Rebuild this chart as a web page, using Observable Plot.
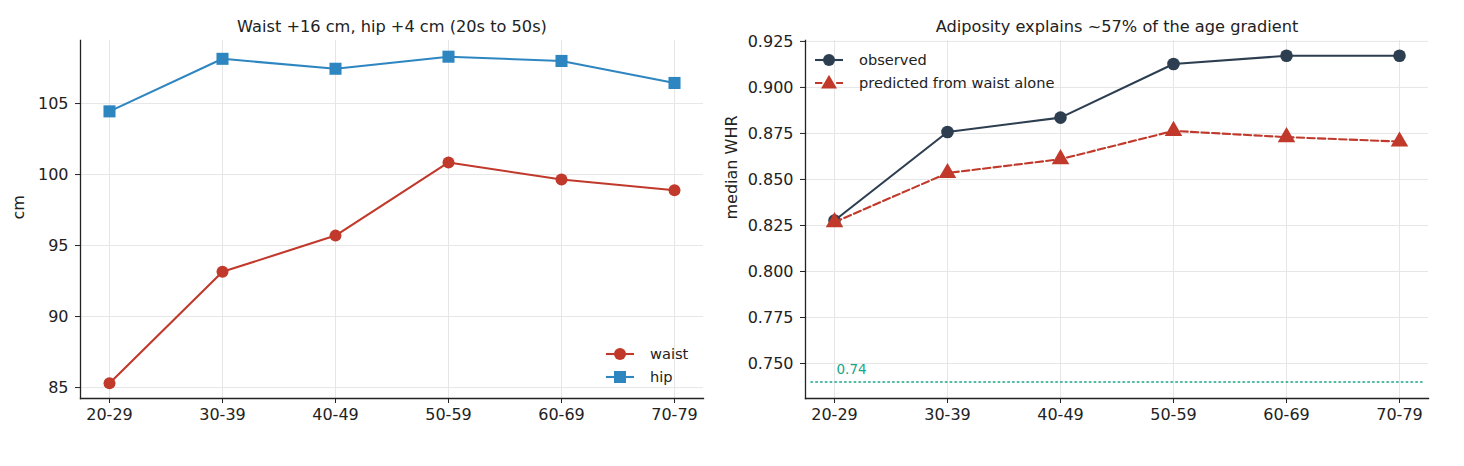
<!DOCTYPE html>
<html>
<head>
<meta charset="utf-8">
<script src="https://cdn.jsdelivr.net/npm/d3@7"></script>
<script src="https://cdn.jsdelivr.net/npm/@observablehq/plot@0.6"></script>
<style>
  html, body { margin: 0; padding: 0; background: #fff; }
  #wrap { position: relative; width: 1464px; height: 466px; display: flex; font-family: "DejaVu Sans", sans-serif; }
  .panel { position: relative; width: 732px; height: 466px; }
  .legend { position: absolute; font-size: 14.6px; color: #222; line-height: 23px; }
  .legend .row { display: flex; align-items: center; height: 23px; }
  .legend svg { margin-right: 15px; }
</style>
</head>
<body>
<div id="wrap">
  <div class="panel" id="left"></div>
  <div class="panel" id="right"></div>
</div>
<script>
const ages = ["20-29", "30-39", "40-49", "50-59", "60-69", "70-79"];
const waist = [85.3, 93.15, 95.7, 100.85, 99.65, 98.9];
const hip = [104.45, 108.15, 107.45, 108.3, 108.0, 106.45];
const observed = [0.8277, 0.8758, 0.8836, 0.9127, 0.9172, 0.9172];
const predicted = [0.8268, 0.8535, 0.861, 0.8764, 0.873, 0.8706];
const refValue = 0.74;
const leftTicks = [85, 90, 95, 100, 105];
const rightTicks = [0.750, 0.775, 0.800, 0.825, 0.850, 0.875, 0.900, 0.925];
const leftTitle = "Waist +16 cm, hip +4 cm (20s to 50s)";
const rightTitle = "Adiposity explains ~57% of the age gradient";

const RED = "#c0392b", BLUE = "#2e86c1", NAVY = "#2c3e50", TEAL = "#17a589";
const GRID = "#e6e6e6";

const waistData = ages.map((a, i) => ({age: a, v: waist[i]}));
const hipData = ages.map((a, i) => ({age: a, v: hip[i]}));
const obsData = ages.map((a, i) => ({age: a, v: observed[i]}));
const predData = ages.map((a, i) => ({age: a, v: predicted[i]}));

const common = {
  width: 732,
  height: 466,
  marginTop: 40,
  marginBottom: 68,
  style: {fontFamily: "DejaVu Sans, sans-serif", fontSize: "16px", color: "#222", background: "white", overflow: "visible"},
  x: {type: "point", domain: ages, padding: 0.247}
};

function axes(ticks, fmt) {
  return [
    Plot.gridX(ages, {stroke: GRID, strokeOpacity: 1, strokeWidth: 1}),
    Plot.gridY(ticks, {stroke: GRID, strokeOpacity: 1, strokeWidth: 1}),
    Plot.axisX({tickSize: 5, tickPadding: 5, fontSize: 16, label: null, stroke: "#222"}),
    Plot.axisY({ticks, tickSize: 5, tickPadding: 7, fontSize: 16, tickFormat: fmt, label: null, stroke: "#222"}),
    Plot.frame({anchor: "left", stroke: "#222", strokeWidth: 1.3}),
    Plot.frame({anchor: "bottom", stroke: "#222", strokeWidth: 1.3})
  ];
}

const left = Plot.plot({
  ...common,
  marginLeft: 80,
  marginRight: 29,
  y: {domain: [84.23, 109.44]},
  marks: [
    ...axes(leftTicks, d3.format("d")),
    Plot.line(waistData, {x: "age", y: "v", stroke: RED, strokeWidth: 2.1}),
    Plot.dot(waistData, {x: "age", y: "v", fill: RED, r: 6, symbol: "circle"}),
    Plot.line(hipData, {x: "age", y: "v", stroke: BLUE, strokeWidth: 2.1}),
    Plot.dot(hipData, {x: "age", y: "v", fill: BLUE, r: 6.8, symbol: "square"}),
    Plot.text([leftTitle], {frameAnchor: "top", dy: -20, fontSize: 16.2, fill: "#222"}),
    Plot.text(["cm"], {frameAnchor: "left", dx: -62, rotate: -90, fontSize: 16, fill: "#222"})
  ]
});

const right = Plot.plot({
  ...common,
  marginLeft: 73,
  marginRight: 36,
  y: {domain: [0.731, 0.9255]},
  marks: [
    ...axes(rightTicks, d3.format(".3f")),
    Plot.ruleY([refValue], {stroke: TEAL, strokeWidth: 1.6, strokeDasharray: "1.5,3.3", strokeLinecap: "round", inset: 6}),
    Plot.text([refValue], {x: () => ages[0], y: d => d, text: d => String(d), dy: -12, dx: 2, textAnchor: "start", fill: TEAL, fontSize: 13.5}),
    Plot.line(obsData, {x: "age", y: "v", stroke: NAVY, strokeWidth: 2.1}),
    Plot.dot(obsData, {x: "age", y: "v", fill: NAVY, r: 6.3, symbol: "circle"}),
    Plot.line(predData, {x: "age", y: "v", stroke: RED, strokeWidth: 2.1, strokeDasharray: "7.4,3.2"}),
    Plot.dot(predData, {x: "age", y: "v", fill: RED, r: 6.5, symbol: "triangle"}),
    Plot.text([rightTitle], {frameAnchor: "top", dy: -20, fontSize: 16.2, fill: "#222"}),
    Plot.text(["median WHR"], {frameAnchor: "left", dx: -74, rotate: -90, fontSize: 16, fill: "#222"})
  ]
});

document.getElementById("left").appendChild(left);
document.getElementById("right").appendChild(right);

function legend(parent, items, leftPx, topPx) {
  const div = document.createElement("div");
  div.className = "legend";
  div.style.left = leftPx + "px";
  div.style.top = topPx + "px";
  for (const it of items) {
    const row = document.createElement("div");
    row.className = "row";
    const s = d3.create("svg").attr("width", 30).attr("height", 16);
    s.append("line").attr("x1", 1).attr("x2", 29).attr("y1", 8).attr("y2", 8)
      .attr("stroke", it.color).attr("stroke-width", 2.1).attr("stroke-dasharray", it.dash || null);
    if (it.shape === "circle") s.append("circle").attr("cx", 15).attr("cy", 8).attr("r", 6).attr("fill", it.color);
    else if (it.shape === "square") s.append("rect").attr("x", 9).attr("y", 2).attr("width", 12).attr("height", 12).attr("fill", it.color);
    else s.append("path").attr("d", d3.symbol(d3.symbolTriangle, 110)()).attr("transform", "translate(15,9)").attr("fill", it.color);
    row.appendChild(s.node());
    const t = document.createElement("span");
    t.textContent = it.label;
    row.appendChild(t);
    div.appendChild(row);
  }
  parent.appendChild(div);
}
legend(document.getElementById("left"), [
  {label: "waist", color: RED, shape: "circle"},
  {label: "hip", color: BLUE, shape: "square"}
], 605, 342);
legend(document.getElementById("right"), [
  {label: "observed", color: NAVY, shape: "circle"},
  {label: "predicted from waist alone", color: RED, shape: "triangle", dash: "7.4,3.2"}
], 82, 48);
</script>
</body>
</html>
